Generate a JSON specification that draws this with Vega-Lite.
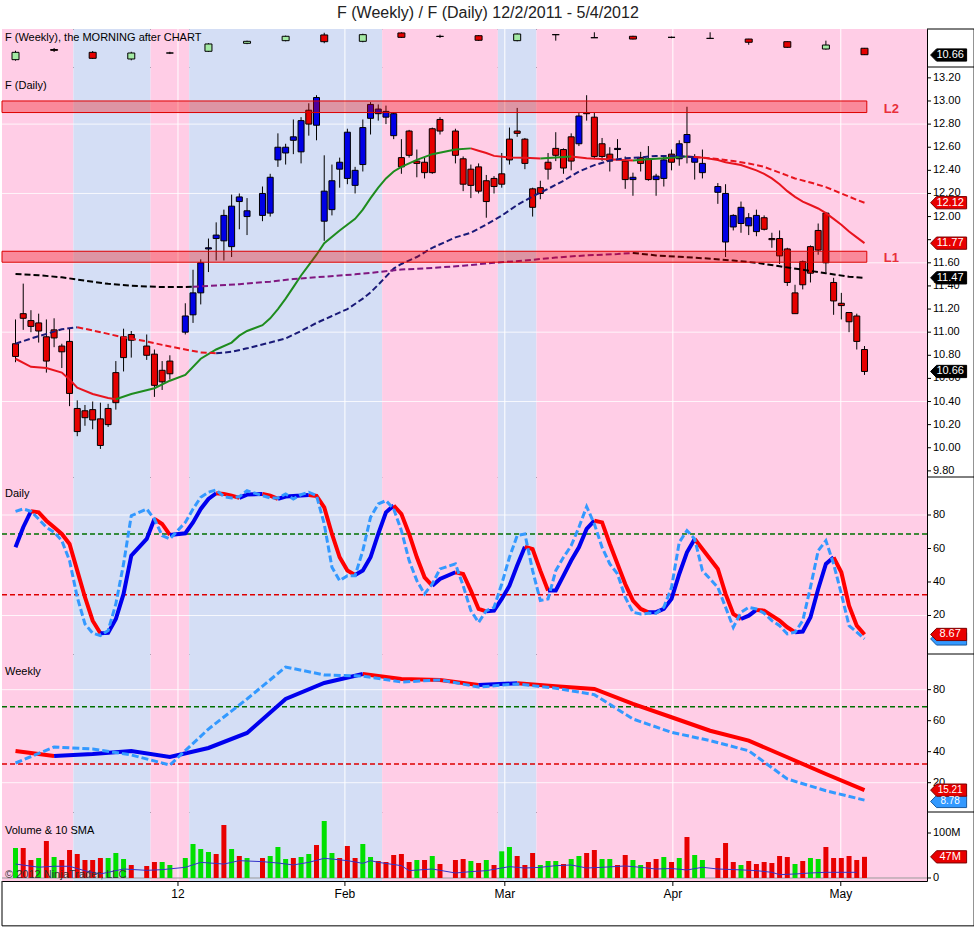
{
"$schema":"https://vega.github.io/schema/vega-lite/v6.json",
"padding":{"top":5,"left":0,"right":0,"bottom":0},
"background":"white",
"title":{"text":"F (Weekly) / F (Daily)  12/2/2011 - 5/4/2012","fontSize":16,"fontWeight":"normal","font":"Liberation Sans","color":"#222222","anchor":"middle","offset":7},
"config":{"view":{"stroke":"#000000","strokeWidth":1},"text":{"font":"Liberation Sans"}},
"spacing":0,
"bounds":"flush",
"resolve":{"scale":{"x":"independent","y":"independent"}},
"datasets":{
"bands":[{"a":-1.75,"b":7.5,"phase":"down"},{"a":7.5,"b":17.5,"phase":"up"},{"a":17.5,"b":22.5,"phase":"down"},{"a":22.5,"b":47.5,"phase":"up"},{"a":47.5,"b":62.5,"phase":"down"},{"a":62.5,"b":67.5,"phase":"up"},{"a":67.5,"b":118.1,"phase":"down"}],
"months":[{"i":21.05,"m":"12"},{"i":42.68,"m":"Feb"},{"i":63.4,"m":"Mar"},{"i":85.17,"m":"Apr"},{"i":106.93,"m":"May"}],
"priceTicks":[{"p":9.8},{"p":10.0},{"p":10.2},{"p":10.4},{"p":10.6},{"p":10.8},{"p":11.0},{"p":11.2},{"p":11.4},{"p":11.6},{"p":11.8},{"p":12.0},{"p":12.2},{"p":12.4},{"p":12.6},{"p":12.8},{"p":13.0},{"p":13.2}],
"stochTicks":[{"p":20},{"p":40},{"p":60},{"p":80}],
"volTicks":[{"p":0,"t":"0"},{"p":100,"t":"100M"}],
"weekly":[
{"i":0,"t":"2011-12-02","o":10.17,"h":11.11,"l":10.06,"c":10.94},
{"i":5,"t":"2011-12-09","o":11.24,"h":11.40,"l":10.98,"c":11.15},
{"i":10,"t":"2011-12-16","o":10.94,"h":11.08,"l":10.24,"c":10.31},
{"i":15,"t":"2011-12-23","o":10.24,"h":11.00,"l":10.10,"c":10.87},
{"i":20,"t":"2011-12-30","o":10.87,"h":11.00,"l":10.76,"c":10.87},
{"i":25,"t":"2012-01-06","o":11.05,"h":11.90,"l":10.98,"c":11.82},
{"i":30,"t":"2012-01-13","o":11.89,"h":12.17,"l":11.80,"c":12.10},
{"i":35,"t":"2012-01-20","o":12.17,"h":12.70,"l":12.10,"c":12.63},
{"i":40,"t":"2012-01-27","o":12.77,"h":13.00,"l":11.90,"c":12.06},
{"i":45,"t":"2012-02-03","o":12.10,"h":12.90,"l":12.00,"c":12.80},
{"i":50,"t":"2012-02-10","o":12.98,"h":13.05,"l":12.45,"c":12.52},
{"i":55,"t":"2012-02-17","o":12.62,"h":12.80,"l":12.45,"c":12.62},
{"i":60,"t":"2012-02-24","o":12.69,"h":12.75,"l":12.15,"c":12.21},
{"i":65,"t":"2012-03-02","o":12.17,"h":12.93,"l":12.10,"c":12.87},
{"i":70,"t":"2012-03-09","o":12.80,"h":12.80,"l":12.17,"c":12.80},
{"i":75,"t":"2012-03-16","o":12.48,"h":13.05,"l":12.45,"c":12.48},
{"i":80,"t":"2012-03-23","o":12.63,"h":12.68,"l":12.30,"c":12.34},
{"i":85,"t":"2012-03-30","o":12.52,"h":12.60,"l":12.43,"c":12.52},
{"i":90,"t":"2012-04-06","o":12.41,"h":13.05,"l":12.34,"c":12.41},
{"i":95,"t":"2012-04-13","o":12.34,"h":12.36,"l":11.74,"c":12.00},
{"i":100,"t":"2012-04-20","o":12.06,"h":12.10,"l":11.40,"c":11.47},
{"i":105,"t":"2012-04-27","o":11.29,"h":12.17,"l":11.22,"c":11.71},
{"i":110,"t":"2012-05-04","o":11.37,"h":11.40,"l":10.66,"c":10.69}],
"daily":[
{"i":0,"t":"2011-12-02","o":10.90,"h":11.11,"l":10.74,"c":10.79,"v":66.7,"vu":1},
{"i":1,"t":"2011-12-05","o":11.16,"h":11.42,"l":11.02,"c":11.12,"v":66.7,"vu":0},
{"i":2,"t":"2011-12-06","o":11.10,"h":11.19,"l":11.00,"c":11.05,"v":40,"vu":0},
{"i":3,"t":"2011-12-07","o":11.08,"h":11.16,"l":10.91,"c":11.01,"v":44.4,"vu":1},
{"i":4,"t":"2011-12-08","o":10.96,"h":11.11,"l":10.65,"c":10.75,"v":82.2,"vu":0},
{"i":5,"t":"2011-12-09","o":11.02,"h":11.12,"l":10.87,"c":10.95,"v":46.7,"vu":1},
{"i":6,"t":"2011-12-12","o":10.88,"h":10.90,"l":10.69,"c":10.83,"v":40,"vu":0},
{"i":7,"t":"2011-12-13","o":10.92,"h":11.03,"l":10.36,"c":10.47,"v":62.2,"vu":0},
{"i":8,"t":"2011-12-14","o":10.34,"h":10.41,"l":10.10,"c":10.14,"v":53.3,"vu":0},
{"i":9,"t":"2011-12-15","o":10.32,"h":10.37,"l":10.19,"c":10.26,"v":40,"vu":0},
{"i":10,"t":"2011-12-16","o":10.33,"h":10.40,"l":10.16,"c":10.24,"v":40,"vu":0},
{"i":11,"t":"2011-12-19","o":10.25,"h":10.39,"l":9.99,"c":10.02,"v":44.4,"vu":0},
{"i":12,"t":"2011-12-20","o":10.34,"h":10.38,"l":10.18,"c":10.20,"v":44.4,"vu":1},
{"i":13,"t":"2011-12-21","o":10.65,"h":10.75,"l":10.33,"c":10.39,"v":55.6,"vu":1},
{"i":14,"t":"2011-12-22","o":10.96,"h":11.03,"l":10.66,"c":10.78,"v":42.2,"vu":1},
{"i":15,"t":"2011-12-23","o":10.98,"h":11.01,"l":10.78,"c":10.93,"v":28.9,"vu":0},
{"i":17,"t":"2011-12-27","o":10.88,"h":10.98,"l":10.76,"c":10.80,"v":26.7,"vu":0},
{"i":18,"t":"2011-12-28","o":10.81,"h":10.85,"l":10.44,"c":10.54,"v":35.6,"vu":0},
{"i":19,"t":"2011-12-29","o":10.67,"h":10.75,"l":10.50,"c":10.57,"v":35.6,"vu":1},
{"i":20,"t":"2011-12-30","o":10.75,"h":10.80,"l":10.59,"c":10.64,"v":28.9,"vu":1},
{"i":22,"t":"2012-01-03","o":11.00,"h":11.25,"l":10.98,"c":11.14,"v":44.4,"vu":1},
{"i":23,"t":"2012-01-04","o":11.15,"h":11.54,"l":11.08,"c":11.34,"v":75.6,"vu":1},
{"i":24,"t":"2012-01-05","o":11.34,"h":11.63,"l":11.24,"c":11.60,"v":64.4,"vu":1},
{"i":25,"t":"2012-01-06","o":11.72,"h":11.81,"l":11.52,"c":11.73,"v":57.8,"vu":1},
{"i":26,"t":"2012-01-09","o":11.81,"h":11.95,"l":11.62,"c":11.84,"v":53.3,"vu":0},
{"i":27,"t":"2012-01-10","o":11.79,"h":12.06,"l":11.62,"c":12.01,"v":117.8,"vu":0},
{"i":28,"t":"2012-01-11","o":11.74,"h":12.19,"l":11.65,"c":12.09,"v":64.4,"vu":1},
{"i":29,"t":"2012-01-12","o":12.13,"h":12.20,"l":11.89,"c":12.17,"v":48.9,"vu":0},
{"i":30,"t":"2012-01-13","o":12.00,"h":12.16,"l":11.84,"c":12.05,"v":44.4,"vu":1},
{"i":32,"t":"2012-01-17","o":12.01,"h":12.26,"l":11.96,"c":12.20,"v":44.4,"vu":0},
{"i":33,"t":"2012-01-18","o":12.03,"h":12.37,"l":12.00,"c":12.34,"v":48.9,"vu":1},
{"i":34,"t":"2012-01-19","o":12.49,"h":12.72,"l":12.43,"c":12.60,"v":68.9,"vu":1},
{"i":35,"t":"2012-01-20","o":12.55,"h":12.63,"l":12.45,"c":12.60,"v":42.2,"vu":1},
{"i":36,"t":"2012-01-23","o":12.66,"h":12.84,"l":12.54,"c":12.69,"v":44.4,"vu":0},
{"i":37,"t":"2012-01-24","o":12.56,"h":12.86,"l":12.46,"c":12.83,"v":46.7,"vu":1},
{"i":38,"t":"2012-01-25","o":12.92,"h":12.98,"l":12.70,"c":12.80,"v":53.3,"vu":1},
{"i":39,"t":"2012-01-26","o":12.79,"h":13.05,"l":12.66,"c":13.03,"v":73.3,"vu":0},
{"i":40,"t":"2012-01-27","o":11.96,"h":12.53,"l":11.79,"c":12.22,"v":126.7,"vu":1},
{"i":41,"t":"2012-01-30","o":12.06,"h":12.45,"l":12.01,"c":12.31,"v":55.6,"vu":1},
{"i":42,"t":"2012-01-31","o":12.41,"h":12.51,"l":12.25,"c":12.47,"v":44.4,"vu":0},
{"i":43,"t":"2012-02-01","o":12.33,"h":12.76,"l":12.28,"c":12.73,"v":71.1,"vu":0},
{"i":44,"t":"2012-02-02","o":12.27,"h":12.43,"l":12.20,"c":12.40,"v":44.4,"vu":0},
{"i":45,"t":"2012-02-03","o":12.45,"h":12.84,"l":12.39,"c":12.77,"v":75.6,"vu":1},
{"i":46,"t":"2012-02-06","o":12.85,"h":12.99,"l":12.71,"c":12.97,"v":46.7,"vu":1},
{"i":47,"t":"2012-02-07","o":12.89,"h":12.97,"l":12.83,"c":12.93,"v":37.8,"vu":0},
{"i":48,"t":"2012-02-08","o":12.86,"h":12.96,"l":12.80,"c":12.91,"v":35.6,"vu":0},
{"i":49,"t":"2012-02-09","o":12.70,"h":12.90,"l":12.67,"c":12.89,"v":51.1,"vu":0},
{"i":50,"t":"2012-02-10","o":12.51,"h":12.67,"l":12.37,"c":12.43,"v":53.3,"vu":0},
{"i":51,"t":"2012-02-13","o":12.74,"h":12.75,"l":12.51,"c":12.53,"v":35.6,"vu":0},
{"i":52,"t":"2012-02-14","o":12.48,"h":12.58,"l":12.34,"c":12.46,"v":40,"vu":1},
{"i":53,"t":"2012-02-15","o":12.47,"h":12.51,"l":12.33,"c":12.38,"v":40,"vu":0},
{"i":54,"t":"2012-02-16","o":12.76,"h":12.77,"l":12.37,"c":12.38,"v":48.9,"vu":1},
{"i":55,"t":"2012-02-17","o":12.84,"h":12.86,"l":12.71,"c":12.74,"v":31.1,"vu":0},
{"i":57,"t":"2012-02-21","o":12.74,"h":12.76,"l":12.46,"c":12.53,"v":40,"vu":0},
{"i":58,"t":"2012-02-22","o":12.50,"h":12.52,"l":12.22,"c":12.28,"v":42.2,"vu":0},
{"i":59,"t":"2012-02-23","o":12.41,"h":12.45,"l":12.16,"c":12.27,"v":37.8,"vu":1},
{"i":60,"t":"2012-02-24","o":12.43,"h":12.46,"l":12.20,"c":12.22,"v":33.3,"vu":0},
{"i":61,"t":"2012-02-27","o":12.31,"h":12.36,"l":11.99,"c":12.13,"v":40,"vu":1},
{"i":62,"t":"2012-02-28","o":12.33,"h":12.35,"l":12.20,"c":12.26,"v":28.9,"vu":0},
{"i":63,"t":"2012-02-29","o":12.37,"h":12.55,"l":12.25,"c":12.28,"v":59.3,"vu":1},
{"i":64,"t":"2012-03-01","o":12.67,"h":12.77,"l":12.45,"c":12.49,"v":68.9,"vu":1},
{"i":65,"t":"2012-03-02","o":12.74,"h":12.94,"l":12.69,"c":12.72,"v":48.9,"vu":0},
{"i":66,"t":"2012-03-05","o":12.67,"h":12.68,"l":12.41,"c":12.46,"v":28.9,"vu":0},
{"i":67,"t":"2012-03-06","o":12.24,"h":12.25,"l":12.00,"c":12.08,"v":55.6,"vu":0},
{"i":68,"t":"2012-03-07","o":12.25,"h":12.31,"l":12.15,"c":12.20,"v":28.9,"vu":1},
{"i":69,"t":"2012-03-08","o":12.47,"h":12.55,"l":12.32,"c":12.41,"v":37.8,"vu":1},
{"i":70,"t":"2012-03-09","o":12.59,"h":12.73,"l":12.48,"c":12.53,"v":37.8,"vu":1},
{"i":71,"t":"2012-03-12","o":12.58,"h":12.59,"l":12.37,"c":12.42,"v":31.1,"vu":0},
{"i":72,"t":"2012-03-13","o":12.69,"h":12.72,"l":12.40,"c":12.48,"v":42.2,"vu":1},
{"i":73,"t":"2012-03-14","o":12.63,"h":12.90,"l":12.61,"c":12.87,"v":48.9,"vu":1},
{"i":74,"t":"2012-03-15","o":12.90,"h":13.05,"l":12.83,"c":12.89,"v":55.6,"vu":0},
{"i":75,"t":"2012-03-16","o":12.86,"h":12.90,"l":12.50,"c":12.52,"v":62.2,"vu":0},
{"i":76,"t":"2012-03-19","o":12.63,"h":12.68,"l":12.48,"c":12.52,"v":42.2,"vu":1},
{"i":77,"t":"2012-03-20","o":12.54,"h":12.60,"l":12.39,"c":12.48,"v":42.2,"vu":1},
{"i":78,"t":"2012-03-21","o":12.58,"h":12.67,"l":12.50,"c":12.59,"v":28.9,"vu":0},
{"i":79,"t":"2012-03-22","o":12.48,"h":12.52,"l":12.24,"c":12.32,"v":51.1,"vu":0},
{"i":80,"t":"2012-03-23","o":12.32,"h":12.38,"l":12.18,"c":12.34,"v":40,"vu":1},
{"i":81,"t":"2012-03-26","o":12.51,"h":12.56,"l":12.39,"c":12.46,"v":28.9,"vu":1},
{"i":82,"t":"2012-03-27","o":12.50,"h":12.61,"l":12.31,"c":12.32,"v":35.6,"vu":0},
{"i":83,"t":"2012-03-28","o":12.32,"h":12.37,"l":12.18,"c":12.35,"v":42.2,"vu":0},
{"i":84,"t":"2012-03-29","o":12.33,"h":12.53,"l":12.26,"c":12.49,"v":46.7,"vu":1},
{"i":85,"t":"2012-03-30","o":12.54,"h":12.58,"l":12.40,"c":12.47,"v":35.6,"vu":0},
{"i":86,"t":"2012-04-02","o":12.50,"h":12.66,"l":12.44,"c":12.63,"v":44.4,"vu":1},
{"i":87,"t":"2012-04-03","o":12.64,"h":12.95,"l":12.46,"c":12.71,"v":91.1,"vu":0},
{"i":88,"t":"2012-04-04","o":12.47,"h":12.54,"l":12.32,"c":12.51,"v":51.1,"vu":1},
{"i":89,"t":"2012-04-05","o":12.38,"h":12.58,"l":12.33,"c":12.46,"v":40,"vu":1},
{"i":91,"t":"2012-04-09","o":12.21,"h":12.29,"l":12.11,"c":12.26,"v":44.4,"vu":0},
{"i":92,"t":"2012-04-10","o":11.78,"h":12.28,"l":11.65,"c":12.20,"v":77.8,"vu":0},
{"i":93,"t":"2012-04-11","o":11.91,"h":12.02,"l":11.88,"c":12.01,"v":35.6,"vu":0},
{"i":94,"t":"2012-04-12","o":11.94,"h":12.13,"l":11.86,"c":12.08,"v":28.9,"vu":1},
{"i":95,"t":"2012-04-13","o":11.92,"h":12.03,"l":11.84,"c":11.99,"v":37.8,"vu":0},
{"i":96,"t":"2012-04-16","o":11.87,"h":12.06,"l":11.83,"c":12.01,"v":31.1,"vu":0},
{"i":97,"t":"2012-04-17","o":11.99,"h":12.01,"l":11.88,"c":11.89,"v":35.6,"vu":0},
{"i":98,"t":"2012-04-18","o":11.81,"h":11.86,"l":11.73,"c":11.80,"v":33.3,"vu":0},
{"i":99,"t":"2012-04-19","o":11.81,"h":11.88,"l":11.59,"c":11.66,"v":48.9,"vu":0},
{"i":100,"t":"2012-04-20","o":11.72,"h":11.73,"l":11.40,"c":11.43,"v":46.7,"vu":0},
{"i":101,"t":"2012-04-23","o":11.34,"h":11.41,"l":11.16,"c":11.16,"v":31.1,"vu":1},
{"i":102,"t":"2012-04-24","o":11.61,"h":11.62,"l":11.37,"c":11.41,"v":37.8,"vu":0},
{"i":103,"t":"2012-04-25","o":11.74,"h":11.75,"l":11.43,"c":11.51,"v":44.4,"vu":1},
{"i":104,"t":"2012-04-26","o":11.88,"h":11.94,"l":11.67,"c":11.71,"v":42.2,"vu":1},
{"i":105,"t":"2012-04-27","o":12.03,"h":12.04,"l":11.52,"c":11.60,"v":68.9,"vu":0},
{"i":106,"t":"2012-04-30","o":11.43,"h":11.47,"l":11.15,"c":11.27,"v":44.4,"vu":0},
{"i":107,"t":"2012-05-01","o":11.25,"h":11.34,"l":11.11,"c":11.23,"v":44.4,"vu":0},
{"i":108,"t":"2012-05-02","o":11.17,"h":11.17,"l":11.00,"c":11.09,"v":48.9,"vu":0},
{"i":109,"t":"2012-05-03","o":11.14,"h":11.16,"l":10.85,"c":10.92,"v":40,"vu":0},
{"i":110,"t":"2012-05-04","o":10.85,"h":10.88,"l":10.63,"c":10.66,"v":47,"vu":0}],
"ma20":[
{"i":0,"v":10.77,"s":"a","d":"down"},{"i":2,"v":10.70,"s":"a","d":"down"},{"i":4,"v":10.69,"s":"a","d":"down"},{"i":6,"v":10.65,"s":"a","d":"down"},{"i":7,"v":10.59,"s":"a","d":"down"},{"i":8,"v":10.52,"s":"a","d":"down"},{"i":10,"v":10.465,"s":"a","d":"down"},{"i":12,"v":10.43,"s":"a","d":"down"},{"i":13,"v":10.42,"s":"a","d":"down"},
{"i":13,"v":10.42,"s":"b","d":"up"},{"i":15,"v":10.465,"s":"b","d":"up"},{"i":18,"v":10.515,"s":"b","d":"up"},{"i":20,"v":10.58,"s":"b","d":"up"},{"i":22,"v":10.63,"s":"b","d":"up"},{"i":24,"v":10.77,"s":"b","d":"up"},{"i":26,"v":10.85,"s":"b","d":"up"},{"i":28,"v":10.91,"s":"b","d":"up"},{"i":29,"v":10.97,"s":"b","d":"up"},{"i":30,"v":11.01,"s":"b","d":"up"},{"i":32,"v":11.06,"s":"b","d":"up"},{"i":33,"v":11.12,"s":"b","d":"up"},{"i":34,"v":11.2,"s":"b","d":"up"},{"i":35,"v":11.29,"s":"b","d":"up"},{"i":36,"v":11.39,"s":"b","d":"up"},{"i":37,"v":11.49,"s":"b","d":"up"},{"i":38,"v":11.58,"s":"b","d":"up"},{"i":39,"v":11.67,"s":"b","d":"up"},{"i":40,"v":11.77,"s":"b","d":"up"},{"i":42,"v":11.88,"s":"b","d":"up"},{"i":44,"v":11.98,"s":"b","d":"up"},{"i":45,"v":12.06,"s":"b","d":"up"},{"i":46,"v":12.16,"s":"b","d":"up"},{"i":47,"v":12.25,"s":"b","d":"up"},{"i":48,"v":12.33,"s":"b","d":"up"},{"i":49,"v":12.39,"s":"b","d":"up"},{"i":50,"v":12.43,"s":"b","d":"up"},{"i":52,"v":12.49,"s":"b","d":"up"},{"i":54,"v":12.54,"s":"b","d":"up"},{"i":57,"v":12.58,"s":"b","d":"up"},{"i":59,"v":12.59,"s":"b","d":"up"},
{"i":59,"v":12.59,"s":"c","d":"down"},{"i":60,"v":12.57,"s":"c","d":"down"},{"i":61,"v":12.55,"s":"c","d":"down"},{"i":62,"v":12.525,"s":"c","d":"down"},{"i":64,"v":12.512,"s":"c","d":"down"},{"i":66,"v":12.508,"s":"c","d":"down"},{"i":68,"v":12.503,"s":"c","d":"down"},
{"i":68,"v":12.503,"s":"d","d":"up"},{"i":70,"v":12.512,"s":"d","d":"up"},{"i":72,"v":12.52,"s":"d","d":"up"},
{"i":72,"v":12.52,"s":"e","d":"down"},{"i":74,"v":12.505,"s":"e","d":"down"},{"i":76,"v":12.498,"s":"e","d":"down"},{"i":78,"v":12.492,"s":"e","d":"down"},{"i":80,"v":12.485,"s":"e","d":"down"},
{"i":80,"v":12.485,"s":"f","d":"up"},{"i":82,"v":12.495,"s":"f","d":"up"},{"i":84,"v":12.505,"s":"f","d":"up"},{"i":86,"v":12.515,"s":"f","d":"up"},{"i":87,"v":12.52,"s":"f","d":"up"},
{"i":87,"v":12.52,"s":"g","d":"down"},{"i":89,"v":12.51,"s":"g","d":"down"},{"i":91,"v":12.49,"s":"g","d":"down"},{"i":92,"v":12.47,"s":"g","d":"down"},{"i":94,"v":12.446,"s":"g","d":"down"},{"i":96,"v":12.40,"s":"g","d":"down"},{"i":97,"v":12.37,"s":"g","d":"down"},{"i":98,"v":12.33,"s":"g","d":"down"},{"i":99,"v":12.28,"s":"g","d":"down"},{"i":100,"v":12.22,"s":"g","d":"down"},{"i":101,"v":12.17,"s":"g","d":"down"},{"i":102,"v":12.13,"s":"g","d":"down"},{"i":103,"v":12.10,"s":"g","d":"down"},{"i":104,"v":12.07,"s":"g","d":"down"},{"i":105,"v":12.03,"s":"g","d":"down"},{"i":106,"v":11.98,"s":"g","d":"down"},{"i":107,"v":11.93,"s":"g","d":"down"},{"i":108,"v":11.87,"s":"g","d":"down"},{"i":109,"v":11.82,"s":"g","d":"down"},{"i":110,"v":11.77,"s":"g","d":"down"}],
"ma50":[
{"i":0,"v":10.90,"s":"a","d":"up"},{"i":2,"v":10.945,"s":"a","d":"up"},{"i":4,"v":10.985,"s":"a","d":"up"},{"i":6,"v":11.025,"s":"a","d":"up"},{"i":8,"v":11.042,"s":"a","d":"up"},
{"i":8,"v":11.042,"s":"b","d":"down"},{"i":10,"v":11.015,"s":"b","d":"down"},{"i":12,"v":10.985,"s":"b","d":"down"},{"i":14,"v":10.955,"s":"b","d":"down"},{"i":17,"v":10.92,"s":"b","d":"down"},{"i":19,"v":10.89,"s":"b","d":"down"},{"i":22,"v":10.85,"s":"b","d":"down"},{"i":24,"v":10.825,"s":"b","d":"down"},{"i":26,"v":10.818,"s":"b","d":"down"},
{"i":26,"v":10.818,"s":"c","d":"up"},{"i":28,"v":10.83,"s":"c","d":"up"},{"i":30,"v":10.86,"s":"c","d":"up"},{"i":33,"v":10.91,"s":"c","d":"up"},{"i":35,"v":10.946,"s":"c","d":"up"},{"i":37,"v":11.01,"s":"c","d":"up"},{"i":39,"v":11.08,"s":"c","d":"up"},{"i":41,"v":11.14,"s":"c","d":"up"},{"i":43,"v":11.2,"s":"c","d":"up"},{"i":45,"v":11.29,"s":"c","d":"up"},{"i":46,"v":11.344,"s":"c","d":"up"},{"i":47,"v":11.41,"s":"c","d":"up"},{"i":48,"v":11.48,"s":"c","d":"up"},{"i":49,"v":11.55,"s":"c","d":"up"},{"i":50,"v":11.59,"s":"c","d":"up"},{"i":52,"v":11.65,"s":"c","d":"up"},{"i":54,"v":11.73,"s":"c","d":"up"},{"i":57,"v":11.82,"s":"c","d":"up"},{"i":59,"v":11.86,"s":"c","d":"up"},{"i":61,"v":11.93,"s":"c","d":"up"},{"i":63,"v":12.008,"s":"c","d":"up"},{"i":65,"v":12.1,"s":"c","d":"up"},{"i":67,"v":12.175,"s":"c","d":"up"},{"i":69,"v":12.24,"s":"c","d":"up"},{"i":71,"v":12.31,"s":"c","d":"up"},{"i":73,"v":12.39,"s":"c","d":"up"},{"i":75,"v":12.445,"s":"c","d":"up"},{"i":77,"v":12.485,"s":"c","d":"up"},{"i":79,"v":12.505,"s":"c","d":"up"},{"i":81,"v":12.512,"s":"c","d":"up"},{"i":83,"v":12.525,"s":"c","d":"up"},{"i":85,"v":12.525,"s":"c","d":"up"},{"i":88,"v":12.515,"s":"c","d":"up"},
{"i":88,"v":12.515,"s":"d","d":"down"},{"i":91,"v":12.498,"s":"d","d":"down"},{"i":93,"v":12.48,"s":"d","d":"down"},{"i":95,"v":12.46,"s":"d","d":"down"},{"i":97,"v":12.43,"s":"d","d":"down"},{"i":99,"v":12.38,"s":"d","d":"down"},{"i":101,"v":12.33,"s":"d","d":"down"},{"i":103,"v":12.295,"s":"d","d":"down"},{"i":105,"v":12.255,"s":"d","d":"down"},{"i":107,"v":12.2,"s":"d","d":"down"},{"i":109,"v":12.145,"s":"d","d":"down"},{"i":110,"v":12.12,"s":"d","d":"down"}],
"ma200":[
{"i":0,"v":11.503,"s":"a","d":"down"},{"i":3,"v":11.492,"s":"a","d":"down"},{"i":6,"v":11.475,"s":"a","d":"down"},{"i":9,"v":11.445,"s":"a","d":"down"},{"i":12,"v":11.418,"s":"a","d":"down"},{"i":15,"v":11.402,"s":"a","d":"down"},{"i":19,"v":11.39,"s":"a","d":"down"},{"i":23,"v":11.392,"s":"a","d":"down"},
{"i":23,"v":11.392,"s":"b","d":"up"},{"i":26,"v":11.404,"s":"b","d":"up"},{"i":29,"v":11.415,"s":"b","d":"up"},{"i":33,"v":11.437,"s":"b","d":"up"},{"i":36,"v":11.46,"s":"b","d":"up"},{"i":40,"v":11.48,"s":"b","d":"up"},{"i":44,"v":11.5,"s":"b","d":"up"},{"i":47,"v":11.52,"s":"b","d":"up"},{"i":50,"v":11.542,"s":"b","d":"up"},{"i":54,"v":11.555,"s":"b","d":"up"},{"i":58,"v":11.575,"s":"b","d":"up"},{"i":62,"v":11.6,"s":"b","d":"up"},{"i":66,"v":11.62,"s":"b","d":"up"},{"i":70,"v":11.645,"s":"b","d":"up"},{"i":74,"v":11.665,"s":"b","d":"up"},{"i":78,"v":11.676,"s":"b","d":"up"},{"i":80,"v":11.685,"s":"b","d":"up"},
{"i":80,"v":11.685,"s":"c","d":"down"},{"i":83,"v":11.664,"s":"c","d":"down"},{"i":86,"v":11.652,"s":"c","d":"down"},{"i":89,"v":11.64,"s":"c","d":"down"},{"i":93,"v":11.62,"s":"c","d":"down"},{"i":96,"v":11.6,"s":"c","d":"down"},{"i":99,"v":11.57,"s":"c","d":"down"},{"i":102,"v":11.54,"s":"c","d":"down"},{"i":105,"v":11.51,"s":"c","d":"down"},{"i":108,"v":11.48,"s":"c","d":"down"},{"i":110,"v":11.47,"s":"c","d":"down"}],
"dD":[
{"i":0,"v":60.7,"s":1,"d":"up"},{"i":1,"v":72.7,"s":1,"d":"up"},{"i":2,"v":82.2,"s":1,"d":"up"},
{"i":2,"v":82.2,"s":2,"d":"down"},{"i":3,"v":81.6,"s":2,"d":"down"},{"i":4,"v":76.6,"s":2,"d":"down"},{"i":5,"v":72.7,"s":2,"d":"down"},{"i":6,"v":68.7,"s":2,"d":"down"},{"i":7,"v":62.7,"s":2,"d":"down"},{"i":8,"v":46.8,"s":2,"d":"down"},{"i":9,"v":30.9,"s":2,"d":"down"},{"i":10,"v":16.9,"s":2,"d":"down"},{"i":11,"v":9.4,"s":2,"d":"down"},
{"i":11,"v":9.4,"s":3,"d":"up"},{"i":12,"v":9.6,"s":3,"d":"up"},{"i":13,"v":17.9,"s":3,"d":"up"},{"i":14,"v":32.9,"s":3,"d":"up"},{"i":15,"v":55.7,"s":3,"d":"up"},{"i":17,"v":65.7,"s":3,"d":"up"},{"i":18,"v":77.6,"s":3,"d":"up"},
{"i":18,"v":77.6,"s":4,"d":"down"},{"i":19,"v":74.65,"s":4,"d":"down"},{"i":20,"v":68.1,"s":4,"d":"down"},
{"i":20,"v":68.1,"s":5,"d":"up"},{"i":22,"v":69.1,"s":5,"d":"up"},{"i":23,"v":75.6,"s":5,"d":"up"},{"i":24,"v":83.6,"s":5,"d":"up"},{"i":25,"v":89.6,"s":5,"d":"up"},{"i":26,"v":93.0,"s":5,"d":"up"},
{"i":26,"v":93.0,"s":6,"d":"down"},{"i":27,"v":92.6,"s":6,"d":"down"},{"i":28,"v":91.6,"s":6,"d":"down"},{"i":29,"v":90.2,"s":6,"d":"down"},
{"i":29,"v":90.2,"s":7,"d":"up"},{"i":30,"v":92.2,"s":7,"d":"up"},{"i":32,"v":92.6,"s":7,"d":"up"},
{"i":32,"v":92.6,"s":8,"d":"down"},{"i":33,"v":91.6,"s":8,"d":"down"},{"i":34,"v":89.6,"s":8,"d":"down"},
{"i":34,"v":89.6,"s":9,"d":"up"},{"i":35,"v":91.0,"s":9,"d":"up"},{"i":36,"v":91.4,"s":9,"d":"up"},{"i":37,"v":91.6,"s":9,"d":"up"},{"i":38,"v":92.0,"s":9,"d":"up"},
{"i":38,"v":92.0,"s":10,"d":"down"},{"i":39,"v":91.4,"s":10,"d":"down"},{"i":40,"v":84.6,"s":10,"d":"down"},{"i":41,"v":68.7,"s":10,"d":"down"},{"i":42,"v":54.75,"s":10,"d":"down"},{"i":43,"v":46.8,"s":10,"d":"down"},{"i":44,"v":44.2,"s":10,"d":"down"},
{"i":44,"v":44.2,"s":11,"d":"up"},{"i":45,"v":46.8,"s":11,"d":"up"},{"i":46,"v":54.75,"s":11,"d":"up"},{"i":47,"v":68.7,"s":11,"d":"up"},{"i":48,"v":81.6,"s":11,"d":"up"},{"i":49,"v":85.6,"s":11,"d":"up"},
{"i":49,"v":85.6,"s":12,"d":"down"},{"i":50,"v":80.6,"s":12,"d":"down"},{"i":51,"v":68.7,"s":12,"d":"down"},{"i":52,"v":54.75,"s":12,"d":"down"},{"i":53,"v":42.8,"s":12,"d":"down"},{"i":54,"v":37.8,"s":12,"d":"down"},
{"i":54,"v":37.8,"s":13,"d":"up"},{"i":55,"v":41.8,"s":13,"d":"up"},{"i":57,"v":45.8,"s":13,"d":"up"},
{"i":57,"v":45.8,"s":14,"d":"down"},{"i":58,"v":44.8,"s":14,"d":"down"},{"i":59,"v":34.85,"s":14,"d":"down"},{"i":60,"v":23.9,"s":14,"d":"down"},{"i":61,"v":22.5,"s":14,"d":"down"},
{"i":61,"v":22.5,"s":15,"d":"up"},{"i":62,"v":22.9,"s":15,"d":"up"},{"i":63,"v":29.9,"s":15,"d":"up"},{"i":64,"v":37.8,"s":15,"d":"up"},{"i":65,"v":49.8,"s":15,"d":"up"},{"i":66,"v":61.1,"s":15,"d":"up"},
{"i":66,"v":61.1,"s":16,"d":"down"},{"i":67,"v":59.7,"s":16,"d":"down"},{"i":68,"v":46.8,"s":16,"d":"down"},{"i":69,"v":34.85,"s":16,"d":"down"},
{"i":69,"v":34.85,"s":17,"d":"up"},{"i":70,"v":34.9,"s":17,"d":"up"},{"i":71,"v":43.8,"s":17,"d":"up"},{"i":72,"v":52.8,"s":17,"d":"up"},{"i":73,"v":60.7,"s":17,"d":"up"},{"i":74,"v":71.7,"s":17,"d":"up"},{"i":75,"v":76.6,"s":17,"d":"up"},
{"i":75,"v":76.6,"s":18,"d":"down"},{"i":76,"v":75.6,"s":18,"d":"down"},{"i":77,"v":62.7,"s":18,"d":"down"},{"i":78,"v":50.8,"s":18,"d":"down"},{"i":79,"v":38.8,"s":18,"d":"down"},{"i":80,"v":28.9,"s":18,"d":"down"},{"i":81,"v":23.9,"s":18,"d":"down"},{"i":82,"v":21.9,"s":18,"d":"down"},
{"i":82,"v":21.9,"s":19,"d":"up"},{"i":83,"v":22.0,"s":19,"d":"up"},{"i":84,"v":23.9,"s":19,"d":"up"},{"i":85,"v":29.9,"s":19,"d":"up"},{"i":86,"v":44.8,"s":19,"d":"up"},{"i":87,"v":57.7,"s":19,"d":"up"},{"i":88,"v":65.7,"s":19,"d":"up"},
{"i":88,"v":65.7,"s":20,"d":"down"},{"i":89,"v":59.7,"s":20,"d":"down"},{"i":91,"v":47.8,"s":20,"d":"down"},{"i":92,"v":32.9,"s":20,"d":"down"},{"i":93,"v":20.9,"s":20,"d":"down"},{"i":94,"v":17.9,"s":20,"d":"down"},
{"i":94,"v":17.9,"s":21,"d":"up"},{"i":95,"v":19.9,"s":21,"d":"up"},{"i":96,"v":23.3,"s":21,"d":"up"},
{"i":96,"v":23.3,"s":22,"d":"down"},{"i":97,"v":22.9,"s":22,"d":"down"},{"i":98,"v":19.9,"s":22,"d":"down"},{"i":99,"v":16.9,"s":22,"d":"down"},{"i":100,"v":12.95,"s":22,"d":"down"},{"i":101,"v":10.0,"s":22,"d":"down"},
{"i":101,"v":10.0,"s":23,"d":"up"},{"i":102,"v":10.4,"s":23,"d":"up"},{"i":103,"v":18.9,"s":23,"d":"up"},{"i":104,"v":35.8,"s":23,"d":"up"},{"i":105,"v":50.8,"s":23,"d":"up"},{"i":106,"v":54.75,"s":23,"d":"up"},
{"i":106,"v":54.75,"s":24,"d":"down"},{"i":107,"v":45.8,"s":24,"d":"down"},{"i":108,"v":25.9,"s":24,"d":"down"},{"i":109,"v":13.95,"s":24,"d":"down"},{"i":110,"v":8.67,"s":24,"d":"down"}],
"dK":[
{"i":0,"v":82.2},{"i":1,"v":83.6},{"i":2,"v":82.2},{"i":3,"v":77.6},{"i":4,"v":72.7},{"i":5,"v":69.7},{"i":6,"v":64.7},{"i":7,"v":52.8},{"i":8,"v":30.9},{"i":9,"v":14.95},{"i":10,"v":9.4},{"i":11,"v":8.0},{"i":12,"v":11.0},{"i":13,"v":26.9},{"i":14,"v":50.8},{"i":15,"v":79.6},{"i":17,"v":83.6},{"i":18,"v":77.6},{"i":19,"v":67.7},{"i":20,"v":65.7},{"i":22,"v":75.6},{"i":23,"v":83.6},{"i":24,"v":90.6},{"i":25,"v":93.6},{"i":26,"v":95.0},{"i":27,"v":91.0},{"i":28,"v":90.2},{"i":29,"v":91.0},{"i":30,"v":94.5},{"i":32,"v":91.6},{"i":33,"v":90.2},{"i":34,"v":90.2},{"i":35,"v":92.6},{"i":36,"v":89.6},{"i":37,"v":92.2},{"i":38,"v":93.6},{"i":39,"v":91.6},{"i":40,"v":74.65},{"i":41,"v":48.8},{"i":42,"v":40.8},{"i":43,"v":43.8},{"i":44,"v":43.8},{"i":45,"v":58.7},{"i":46,"v":78.6},{"i":47,"v":86.6},{"i":48,"v":88.6},{"i":49,"v":83.6},{"i":50,"v":70.7},{"i":51,"v":52.8},{"i":52,"v":40.8},{"i":53,"v":32.9},{"i":54,"v":38.8},{"i":55,"v":47.8},{"i":57,"v":50.8},{"i":58,"v":37.8},{"i":59,"v":22.9},{"i":60,"v":15.9},{"i":61,"v":22.9},{"i":62,"v":24.9},{"i":63,"v":38.8},{"i":64,"v":54.75},{"i":65,"v":67.7},{"i":66,"v":68.7},{"i":67,"v":46.8},{"i":68,"v":28.9},{"i":69,"v":29.9},{"i":70,"v":46.8},{"i":71,"v":54.75},{"i":72,"v":61.7},{"i":73,"v":72.7},{"i":74,"v":85.0},{"i":75,"v":74.65},{"i":76,"v":60.7},{"i":77,"v":50.8},{"i":78,"v":44.8},{"i":79,"v":30.9},{"i":80,"v":21.9},{"i":81,"v":20.9},{"i":82,"v":21.3},{"i":83,"v":21.3},{"i":84,"v":24.9},{"i":85,"v":36.8},{"i":86,"v":63.7},{"i":87,"v":70.7},{"i":88,"v":65.7},{"i":89,"v":46.8},{"i":91,"v":36.8},{"i":92,"v":24.9},{"i":93,"v":12.95},{"i":94,"v":21.9},{"i":95,"v":24.9},{"i":96,"v":23.9},{"i":97,"v":21.3},{"i":98,"v":16.9},{"i":99,"v":13.95},{"i":100,"v":9.0},{"i":101,"v":10.0},{"i":102,"v":16.9},{"i":103,"v":36.8},{"i":104,"v":58.7},{"i":105,"v":64.7},{"i":106,"v":50.8},{"i":107,"v":32.9},{"i":108,"v":13.95},{"i":109,"v":10.0},{"i":110,"v":6.0}],
"wD":[
{"i":0,"v":40.5,"s":1,"d":"down"},{"i":5,"v":37.2,"s":1,"d":"down"},
{"i":5,"v":37.2,"s":2,"d":"up"},{"i":10,"v":38.5,"s":2,"d":"up"},{"i":15,"v":40.5,"s":2,"d":"up"},{"i":20,"v":36.6,"s":2,"d":"up"},{"i":25,"v":42.4,"s":2,"d":"up"},{"i":30,"v":52.1,"s":2,"d":"up"},{"i":35,"v":74.0,"s":2,"d":"up"},{"i":40,"v":84.3,"s":2,"d":"up"},{"i":45,"v":90.1,"s":2,"d":"up"},
{"i":45,"v":90.1,"s":3,"d":"down"},{"i":50,"v":86.9,"s":3,"d":"down"},{"i":55,"v":86.3,"s":3,"d":"down"},{"i":60,"v":83.0,"s":3,"d":"down"},
{"i":60,"v":83.0,"s":4,"d":"up"},{"i":65,"v":84.1,"s":4,"d":"up"},
{"i":65,"v":84.1,"s":5,"d":"down"},{"i":70,"v":82.2,"s":5,"d":"down"},{"i":75,"v":80.5,"s":5,"d":"down"},{"i":80,"v":70.8,"s":5,"d":"down"},{"i":85,"v":62.2,"s":5,"d":"down"},{"i":90,"v":53.5,"s":5,"d":"down"},{"i":95,"v":47.1,"s":5,"d":"down"},{"i":100,"v":36.4,"s":5,"d":"down"},{"i":105,"v":25.6,"s":5,"d":"down"},{"i":110,"v":15.21,"s":5,"d":"down"}],
"wK":[
{"i":0,"v":32.7},{"i":5,"v":43.0},{"i":10,"v":41.7},{"i":15,"v":37.9},{"i":20,"v":31.4},{"i":25,"v":54.6},{"i":30,"v":74.0},{"i":35,"v":94.6},{"i":40,"v":89.5},{"i":45,"v":88.8},{"i":50,"v":84.9},{"i":55,"v":86.3},{"i":60,"v":81.7},{"i":65,"v":83.7},{"i":70,"v":80.9},{"i":75,"v":76.8},{"i":80,"v":61.1},{"i":85,"v":52.5},{"i":90,"v":47.1},{"i":95,"v":40.6},{"i":100,"v":22.4},{"i":105,"v":14.8},{"i":110,"v":8.78}],
"vsma":[
{"i":0,"v":31},{"i":3,"v":24},{"i":5,"v":26},{"i":7,"v":26},{"i":9,"v":16},{"i":11,"v":9},{"i":12,"v":12.6},{"i":14,"v":20},{"i":17,"v":17},{"i":19,"v":18.5},{"i":22,"v":23.7},{"i":24,"v":34.8},{"i":27,"v":31},{"i":29,"v":38.5},{"i":32,"v":36.3},{"i":34,"v":33.3},{"i":36,"v":29},{"i":38,"v":34.8},{"i":40,"v":43.7},{"i":41,"v":42.2},{"i":43,"v":38.5},{"i":45,"v":32.6},{"i":46,"v":38.5},{"i":47,"v":34.8},{"i":50,"v":27.4},{"i":51,"v":16.3},{"i":54,"v":20},{"i":57,"v":11.1},{"i":59,"v":14.1},{"i":61,"v":16.3},{"i":64,"v":25.2},{"i":66,"v":22.2},{"i":68,"v":23.7},{"i":70,"v":27.4},{"i":72,"v":28.9},{"i":74,"v":22.2},{"i":76,"v":23.7},{"i":79,"v":26.7},{"i":81,"v":23.7},{"i":83,"v":20},{"i":85,"v":21},{"i":87,"v":17.8},{"i":89,"v":23.7},{"i":91,"v":20},{"i":94,"v":18},{"i":96,"v":16.3},{"i":98,"v":12.6},{"i":99,"v":7.4},{"i":101,"v":8.9},{"i":103,"v":11.1},{"i":105,"v":12.6},{"i":107,"v":12.6},{"i":109,"v":12.6}],
"levels":[{"n":"L2","lo":12.90,"hi":13.00},{"n":"L1","lo":11.605,"hi":11.70}]
},
"vconcat":[
{"width":925,"height":38,"layer":[
{"data":{"name":"bands"},"mark":{"type":"rect"},"encoding":{"x":{"field":"a","type":"quantitative","scale":{"domain":[-1.75,118.1],"nice":false,"zero":false,"padding":0},"axis":null},"x2":{"field":"b"},"fill":{"condition":{"test":"datum.phase=='up'","value":"#d4def5"},"value":"#ffcde6"}}},
{"data":{"name":"months"},"mark":{"type":"rule","color":"white","strokeWidth":1},"encoding":{"x":{"field":"i","type":"quantitative","scale":{"domain":[-1.75,118.1],"nice":false,"zero":false,"padding":0},"axis":null}}},
{"data":{"name":"weekly"},"mark":{"type":"rule","color":"black","strokeWidth":1},"encoding":{"x":{"field":"i","type":"quantitative","scale":{"domain":[-1.75,118.1],"nice":false,"zero":false,"padding":0},"axis":null},"y":{"field":"l","type":"quantitative","scale":{"domain":[9.397,13.397],"nice":false,"zero":false,"padding":0},"axis":null},"y2":{"field":"h"}}},
{"data":{"name":"weekly"},"mark":{"type":"bar","width":7,"stroke":"black","strokeWidth":1},"encoding":{"x":{"field":"i","type":"quantitative","scale":{"domain":[-1.75,118.1],"nice":false,"zero":false,"padding":0},"axis":null},"y":{"field":"o","type":"quantitative","scale":{"domain":[9.397,13.397],"nice":false,"zero":false,"padding":0},"axis":null},"y2":{"field":"c"},"fill":{"condition":[{"test":"datum.c==datum.o","value":"black"},{"test":"datum.c>datum.o","value":"#a4eaa4"}],"value":"#e60000"}}},
{"data":{"values":[{"n":"F (Weekly), the MORNING after CHART"}]},"mark":{"type":"text","align":"left","baseline":"middle","dx":3,"dy":9,"fontSize":11,"color":"black"},"encoding":{"x":{"datum":-1.75,"type":"quantitative","scale":{"domain":[-1.75,118.1],"nice":false,"zero":false,"padding":0},"axis":null},"y":{"datum":13.397,"type":"quantitative","scale":{"domain":[9.397,13.397],"nice":false,"zero":false,"padding":0},"axis":null},"text":{"field":"n"}}},
{"data":{"values":[{"e":"frame"}]},"mark":{"type":"rule","color":"black","strokeWidth":1},"encoding":{"x":{"datum":118.1,"type":"quantitative","scale":{"domain":[-1.75,118.1],"nice":false,"zero":false,"padding":0},"axis":null},"x2":{"datum":124.2},"y":{"datum":13.397,"type":"quantitative","scale":{"domain":[9.397,13.397],"nice":false,"zero":false,"padding":0},"axis":null}}},
{"data":{"values":[{"e":"frame"}]},"mark":{"type":"rule","color":"black","strokeWidth":1},"encoding":{"x":{"datum":124.2,"type":"quantitative","scale":{"domain":[-1.75,118.1],"nice":false,"zero":false,"padding":0},"axis":null}}},
{"data":{"values":[{"s":"Close","v":10.66,"t":"10.66"}]},"mark":{"type":"point","shape":"M-1,0L-0.67,-0.34L1,-0.34L1,0.34L-0.67,0.34Z","size":1296,"filled":true,"opacity":1,"fill":"black","stroke":"black","strokeWidth":1},"encoding":{"x":{"datum":120.9,"type":"quantitative","scale":{"domain":[-1.75,118.1],"nice":false,"zero":false,"padding":0},"axis":null},"y":{"field":"v","type":"quantitative","scale":{"domain":[9.397,13.397],"nice":false,"zero":false,"padding":0},"axis":null}}},
{"data":{"values":[{"s":"Close","v":10.66,"t":"10.66"}]},"mark":{"type":"text","color":"white","fontSize":11,"baseline":"middle","align":"center"},"encoding":{"x":{"datum":121.1,"type":"quantitative","scale":{"domain":[-1.75,118.1],"nice":false,"zero":false,"padding":0},"axis":null},"y":{"field":"v","type":"quantitative","scale":{"domain":[9.397,13.397],"nice":false,"zero":false,"padding":0},"axis":null},"text":{"field":"t"}}}
]},
{"width":925,"height":410,"layer":[
{"data":{"name":"bands"},"mark":{"type":"rect"},"encoding":{"x":{"field":"a","type":"quantitative","scale":{"domain":[-1.75,118.1],"nice":false,"zero":false,"padding":0},"axis":null},"x2":{"field":"b"},"fill":{"condition":{"test":"datum.phase=='up'","value":"#d4def5"},"value":"#ffcde6"}}},
{"data":{"values":[{"p":10.4},{"p":11.0},{"p":11.6},{"p":12.2},{"p":12.8}]},"mark":{"type":"rule","color":"white","strokeWidth":1,"opacity":0.8},"encoding":{"x":{"datum":-1.75,"type":"quantitative","scale":{"domain":[-1.75,118.1],"nice":false,"zero":false,"padding":0},"axis":null},"x2":{"datum":118.1},"y":{"field":"p","type":"quantitative","scale":{"domain":[9.747,13.294],"nice":false,"zero":false,"padding":0},"axis":null}}},
{"data":{"name":"months"},"mark":{"type":"rule","color":"white","strokeWidth":1},"encoding":{"x":{"field":"i","type":"quantitative","scale":{"domain":[-1.75,118.1],"nice":false,"zero":false,"padding":0},"axis":null}}},
{"data":{"name":"daily"},"mark":{"type":"rule","color":"black","strokeWidth":1},"encoding":{"x":{"field":"i","type":"quantitative","scale":{"domain":[-1.75,118.1],"nice":false,"zero":false,"padding":0},"axis":null},"y":{"field":"l","type":"quantitative","scale":{"domain":[9.747,13.294],"nice":false,"zero":false,"padding":0},"axis":null},"y2":{"field":"h"}}},
{"data":{"name":"daily"},"mark":{"type":"bar","width":6,"stroke":"black","strokeWidth":1},"encoding":{"x":{"field":"i","type":"quantitative","scale":{"domain":[-1.75,118.1],"nice":false,"zero":false,"padding":0},"axis":null},"y":{"field":"o","type":"quantitative","scale":{"domain":[9.747,13.294],"nice":false,"zero":false,"padding":0},"axis":null},"y2":{"field":"c"},"fill":{"condition":{"test":"datum.c<datum.o","value":"#e60000"},"value":"#0000e6"}}},
{"data":{"name":"ma20"},"mark":{"type":"line","strokeWidth":2},"encoding":{"x":{"field":"i","type":"quantitative","scale":{"domain":[-1.75,118.1],"nice":false,"zero":false,"padding":0},"axis":null},"y":{"field":"v","type":"quantitative","scale":{"domain":[9.747,13.294],"nice":false,"zero":false,"padding":0},"axis":null},"detail":{"field":"s"},"color":{"condition":{"test":"datum.d=='up'","value":"#1e8c1e"},"value":"#e8141e"}}},
{"data":{"name":"ma50"},"mark":{"type":"line","strokeWidth":2,"strokeDash":[6,3]},"encoding":{"x":{"field":"i","type":"quantitative","scale":{"domain":[-1.75,118.1],"nice":false,"zero":false,"padding":0},"axis":null},"y":{"field":"v","type":"quantitative","scale":{"domain":[9.747,13.294],"nice":false,"zero":false,"padding":0},"axis":null},"detail":{"field":"s"},"color":{"condition":{"test":"datum.d=='up'","value":"#1a1a78"},"value":"#e8141e"}}},
{"data":{"name":"ma200"},"mark":{"type":"line","strokeWidth":2,"strokeDash":[6,3]},"encoding":{"x":{"field":"i","type":"quantitative","scale":{"domain":[-1.75,118.1],"nice":false,"zero":false,"padding":0},"axis":null},"y":{"field":"v","type":"quantitative","scale":{"domain":[9.747,13.294],"nice":false,"zero":false,"padding":0},"axis":null},"detail":{"field":"s"},"color":{"condition":{"test":"datum.d=='up'","value":"#801880"},"value":"#000000"}}},
{"data":{"name":"levels"},"mark":{"type":"rect","fill":"#f00000","fillOpacity":0.33,"stroke":"#dd0000","strokeWidth":1},"encoding":{"x":{"datum":-1.75,"type":"quantitative","scale":{"domain":[-1.75,118.1],"nice":false,"zero":false,"padding":0},"axis":null},"x2":{"datum":110.3},"y":{"field":"lo","type":"quantitative","scale":{"domain":[9.747,13.294],"nice":false,"zero":false,"padding":0},"axis":null},"y2":{"field":"hi"}}},
{"data":{"name":"levels"},"mark":{"type":"text","align":"left","baseline":"alphabetic","fontSize":13,"fontWeight":"bold","font":"Liberation Sans","color":"#e8303a"},"encoding":{"x":{"datum":112.5,"type":"quantitative","scale":{"domain":[-1.75,118.1],"nice":false,"zero":false,"padding":0},"axis":null},"y":{"field":"lo","type":"quantitative","scale":{"domain":[9.747,13.294],"nice":false,"zero":false,"padding":0},"axis":null},"text":{"field":"n"}}},
{"data":{"values":[{"n":"F (Daily)"}]},"mark":{"type":"text","align":"left","baseline":"middle","dx":3,"dy":19,"fontSize":11,"color":"black"},"encoding":{"x":{"datum":-1.75,"type":"quantitative","scale":{"domain":[-1.75,118.1],"nice":false,"zero":false,"padding":0},"axis":null},"y":{"datum":13.294,"type":"quantitative","scale":{"domain":[9.747,13.294],"nice":false,"zero":false,"padding":0},"axis":null},"text":{"field":"n"}}},
{"data":{"values":[{"e":"frame"}]},"mark":{"type":"rule","color":"black","strokeWidth":1},"encoding":{"x":{"datum":118.1,"type":"quantitative","scale":{"domain":[-1.75,118.1],"nice":false,"zero":false,"padding":0},"axis":null},"x2":{"datum":124.2},"y":{"datum":13.294,"type":"quantitative","scale":{"domain":[9.747,13.294],"nice":false,"zero":false,"padding":0},"axis":null}}},
{"data":{"values":[{"e":"frame"}]},"mark":{"type":"rule","color":"black","strokeWidth":1},"encoding":{"x":{"datum":124.2,"type":"quantitative","scale":{"domain":[-1.75,118.1],"nice":false,"zero":false,"padding":0},"axis":null}}},
{"data":{"name":"priceTicks"},"mark":{"type":"rule","color":"black","strokeWidth":1},"encoding":{"x":{"datum":118.1,"type":"quantitative","scale":{"domain":[-1.75,118.1],"nice":false,"zero":false,"padding":0},"axis":null},"x2":{"datum":118.62},"y":{"field":"p","type":"quantitative","scale":{"domain":[9.747,13.294],"nice":false,"zero":false,"padding":0},"axis":null}}},
{"data":{"name":"priceTicks"},"transform":[{"filter":"datum.p!=11.8"}],"mark":{"type":"text","align":"left","baseline":"middle","dx":6,"fontSize":11,"color":"black"},"encoding":{"x":{"datum":118.1,"type":"quantitative","scale":{"domain":[-1.75,118.1],"nice":false,"zero":false,"padding":0},"axis":null},"y":{"field":"p","type":"quantitative","scale":{"domain":[9.747,13.294],"nice":false,"zero":false,"padding":0},"axis":null},"text":{"field":"p","format":".2f"}}},
{"data":{"values":[{"s":"SMA50","v":12.12,"t":"12.12"},{"s":"SMA20","v":11.77,"t":"11.77"},{"s":"SMA200","v":11.47,"t":"11.47"},{"s":"Close","v":10.66,"t":"10.66"}]},"mark":{"type":"point","shape":"M-1,0L-0.67,-0.34L1,-0.34L1,0.34L-0.67,0.34Z","size":1296,"filled":true,"opacity":1,"strokeWidth":1},"encoding":{"x":{"datum":120.9,"type":"quantitative","scale":{"domain":[-1.75,118.1],"nice":false,"zero":false,"padding":0},"axis":null},"y":{"field":"v","type":"quantitative","scale":{"domain":[9.747,13.294],"nice":false,"zero":false,"padding":0},"axis":null},"fill":{"condition":{"test":"datum.s=='SMA50'||datum.s=='SMA20'","value":"#e80000"},"value":"#000000"},"stroke":{"condition":{"test":"datum.s=='SMA50'||datum.s=='SMA20'","value":"#7a0000"},"value":"#000000"}}},
{"data":{"values":[{"s":"SMA50","v":12.12,"t":"12.12"},{"s":"SMA20","v":11.77,"t":"11.77"},{"s":"SMA200","v":11.47,"t":"11.47"},{"s":"Close","v":10.66,"t":"10.66"}]},"mark":{"type":"text","color":"white","fontSize":11,"baseline":"middle","align":"center"},"encoding":{"x":{"datum":121.1,"type":"quantitative","scale":{"domain":[-1.75,118.1],"nice":false,"zero":false,"padding":0},"axis":null},"y":{"field":"v","type":"quantitative","scale":{"domain":[9.747,13.294],"nice":false,"zero":false,"padding":0},"axis":null},"text":{"field":"t"}}}
]},
{"width":925,"height":177,"layer":[
{"data":{"name":"bands"},"mark":{"type":"rect"},"encoding":{"x":{"field":"a","type":"quantitative","scale":{"domain":[-1.75,118.1],"nice":false,"zero":false,"padding":0},"axis":null},"x2":{"field":"b"},"fill":{"condition":{"test":"datum.phase=='up'","value":"#d4def5"},"value":"#ffcde6"}}},
{"data":{"values":[{"p":20},{"p":80}]},"mark":{"type":"rule","color":"white","strokeWidth":1,"opacity":0.8},"encoding":{"x":{"datum":-1.75,"type":"quantitative","scale":{"domain":[-1.75,118.1],"nice":false,"zero":false,"padding":0},"axis":null},"x2":{"datum":118.1},"y":{"field":"p","type":"quantitative","scale":{"domain":[-3,102.7],"nice":false,"zero":false,"padding":0},"axis":null}}},
{"data":{"name":"months"},"mark":{"type":"rule","color":"white","strokeWidth":1},"encoding":{"x":{"field":"i","type":"quantitative","scale":{"domain":[-1.75,118.1],"nice":false,"zero":false,"padding":0},"axis":null}}},
{"data":{"values":[{"lv":68.7,"n":"overbought"},{"lv":32.4,"n":"oversold"}]},"mark":{"type":"rule","strokeWidth":1.5,"strokeDash":[5,3]},"encoding":{"x":{"datum":-1.75,"type":"quantitative","scale":{"domain":[-1.75,118.1],"nice":false,"zero":false,"padding":0},"axis":null},"x2":{"datum":118.1},"y":{"field":"lv","type":"quantitative","scale":{"domain":[-3,102.7],"nice":false,"zero":false,"padding":0},"axis":null},"color":{"condition":{"test":"datum.n=='overbought'","value":"#007000"},"value":"#dd0000"}}},
{"data":{"name":"dD"},"mark":{"type":"line","strokeWidth":4},"encoding":{"x":{"field":"i","type":"quantitative","scale":{"domain":[-1.75,118.1],"nice":false,"zero":false,"padding":0},"axis":null},"y":{"field":"v","type":"quantitative","scale":{"domain":[-3,102.7],"nice":false,"zero":false,"padding":0},"axis":null},"detail":{"field":"s"},"color":{"condition":{"test":"datum.d=='up'","value":"#0000ee"},"value":"#ff0000"}}},
{"data":{"name":"dK"},"mark":{"type":"line","strokeWidth":3,"strokeDash":[7,3],"color":"#3399ff"},"encoding":{"x":{"field":"i","type":"quantitative","scale":{"domain":[-1.75,118.1],"nice":false,"zero":false,"padding":0},"axis":null},"y":{"field":"v","type":"quantitative","scale":{"domain":[-3,102.7],"nice":false,"zero":false,"padding":0},"axis":null}}},
{"data":{"values":[{"n":"Daily"}]},"mark":{"type":"text","align":"left","baseline":"middle","dx":3,"dy":17,"fontSize":11,"color":"black"},"encoding":{"x":{"datum":-1.75,"type":"quantitative","scale":{"domain":[-1.75,118.1],"nice":false,"zero":false,"padding":0},"axis":null},"y":{"datum":102.7,"type":"quantitative","scale":{"domain":[-3,102.7],"nice":false,"zero":false,"padding":0},"axis":null},"text":{"field":"n"}}},
{"data":{"values":[{"e":"frame"}]},"mark":{"type":"rule","color":"black","strokeWidth":1},"encoding":{"x":{"datum":118.1,"type":"quantitative","scale":{"domain":[-1.75,118.1],"nice":false,"zero":false,"padding":0},"axis":null},"x2":{"datum":124.2},"y":{"datum":102.7,"type":"quantitative","scale":{"domain":[-3,102.7],"nice":false,"zero":false,"padding":0},"axis":null}}},
{"data":{"values":[{"e":"frame"}]},"mark":{"type":"rule","color":"black","strokeWidth":1},"encoding":{"x":{"datum":124.2,"type":"quantitative","scale":{"domain":[-1.75,118.1],"nice":false,"zero":false,"padding":0},"axis":null}}},
{"data":{"name":"stochTicks"},"mark":{"type":"rule","color":"black","strokeWidth":1},"encoding":{"x":{"datum":118.1,"type":"quantitative","scale":{"domain":[-1.75,118.1],"nice":false,"zero":false,"padding":0},"axis":null},"x2":{"datum":118.62},"y":{"field":"p","type":"quantitative","scale":{"domain":[-3,102.7],"nice":false,"zero":false,"padding":0},"axis":null}}},
{"data":{"name":"stochTicks"},"mark":{"type":"text","align":"left","baseline":"middle","dx":6,"fontSize":11,"color":"black"},"encoding":{"x":{"datum":118.1,"type":"quantitative","scale":{"domain":[-1.75,118.1],"nice":false,"zero":false,"padding":0},"axis":null},"y":{"field":"p","type":"quantitative","scale":{"domain":[-3,102.7],"nice":false,"zero":false,"padding":0},"axis":null},"text":{"field":"p"}}},
{"data":{"values":[{"s":"K","v":6.0},{"s":"D","v":8.67}]},"mark":{"type":"point","shape":"M-1,0L-0.67,-0.34L1,-0.34L1,0.34L-0.67,0.34Z","size":1296,"filled":true,"opacity":1,"strokeWidth":1},"encoding":{"x":{"datum":120.9,"type":"quantitative","scale":{"domain":[-1.75,118.1],"nice":false,"zero":false,"padding":0},"axis":null},"y":{"field":"v","type":"quantitative","scale":{"domain":[-3,102.7],"nice":false,"zero":false,"padding":0},"axis":null},"fill":{"condition":{"test":"datum.s=='D'","value":"#e80000"},"value":"#3399ff"},"stroke":{"condition":{"test":"datum.s=='D'","value":"#7a0000"},"value":"#1a5aa0"}}},
{"data":{"values":[{"s":"D","v":8.67,"t":"8.67"}]},"mark":{"type":"text","color":"white","fontSize":11,"baseline":"middle","align":"center"},"encoding":{"x":{"datum":121.1,"type":"quantitative","scale":{"domain":[-1.75,118.1],"nice":false,"zero":false,"padding":0},"axis":null},"y":{"field":"v","type":"quantitative","scale":{"domain":[-3,102.7],"nice":false,"zero":false,"padding":0},"axis":null},"text":{"field":"t"}}}
]},
{"width":925,"height":158,"layer":[
{"data":{"name":"bands"},"mark":{"type":"rect"},"encoding":{"x":{"field":"a","type":"quantitative","scale":{"domain":[-1.75,118.1],"nice":false,"zero":false,"padding":0},"axis":null},"x2":{"field":"b"},"fill":{"condition":{"test":"datum.phase=='up'","value":"#d4def5"},"value":"#ffcde6"}}},
{"data":{"values":[{"p":20},{"p":80}]},"mark":{"type":"rule","color":"white","strokeWidth":1,"opacity":0.8},"encoding":{"x":{"datum":-1.75,"type":"quantitative","scale":{"domain":[-1.75,118.1],"nice":false,"zero":false,"padding":0},"axis":null},"x2":{"datum":118.1},"y":{"field":"p","type":"quantitative","scale":{"domain":[1.1,103],"nice":false,"zero":false,"padding":0},"axis":null}}},
{"data":{"name":"months"},"mark":{"type":"rule","color":"white","strokeWidth":1},"encoding":{"x":{"field":"i","type":"quantitative","scale":{"domain":[-1.75,118.1],"nice":false,"zero":false,"padding":0},"axis":null}}},
{"data":{"values":[{"lv":69,"n":"overbought"},{"lv":32,"n":"oversold"}]},"mark":{"type":"rule","strokeWidth":1.5,"strokeDash":[5,3]},"encoding":{"x":{"datum":-1.75,"type":"quantitative","scale":{"domain":[-1.75,118.1],"nice":false,"zero":false,"padding":0},"axis":null},"x2":{"datum":118.1},"y":{"field":"lv","type":"quantitative","scale":{"domain":[1.1,103],"nice":false,"zero":false,"padding":0},"axis":null},"color":{"condition":{"test":"datum.n=='overbought'","value":"#007000"},"value":"#dd0000"}}},
{"data":{"name":"wD"},"mark":{"type":"line","strokeWidth":4},"encoding":{"x":{"field":"i","type":"quantitative","scale":{"domain":[-1.75,118.1],"nice":false,"zero":false,"padding":0},"axis":null},"y":{"field":"v","type":"quantitative","scale":{"domain":[1.1,103],"nice":false,"zero":false,"padding":0},"axis":null},"detail":{"field":"s"},"color":{"condition":{"test":"datum.d=='up'","value":"#0000ee"},"value":"#ff0000"}}},
{"data":{"name":"wK"},"mark":{"type":"line","strokeWidth":3,"strokeDash":[7,3],"color":"#3399ff"},"encoding":{"x":{"field":"i","type":"quantitative","scale":{"domain":[-1.75,118.1],"nice":false,"zero":false,"padding":0},"axis":null},"y":{"field":"v","type":"quantitative","scale":{"domain":[1.1,103],"nice":false,"zero":false,"padding":0},"axis":null}}},
{"data":{"values":[{"n":"Weekly"}]},"mark":{"type":"text","align":"left","baseline":"middle","dx":3,"dy":18,"fontSize":11,"color":"black"},"encoding":{"x":{"datum":-1.75,"type":"quantitative","scale":{"domain":[-1.75,118.1],"nice":false,"zero":false,"padding":0},"axis":null},"y":{"datum":103,"type":"quantitative","scale":{"domain":[1.1,103],"nice":false,"zero":false,"padding":0},"axis":null},"text":{"field":"n"}}},
{"data":{"values":[{"e":"frame"}]},"mark":{"type":"rule","color":"black","strokeWidth":1},"encoding":{"x":{"datum":118.1,"type":"quantitative","scale":{"domain":[-1.75,118.1],"nice":false,"zero":false,"padding":0},"axis":null},"x2":{"datum":124.2},"y":{"datum":103,"type":"quantitative","scale":{"domain":[1.1,103],"nice":false,"zero":false,"padding":0},"axis":null}}},
{"data":{"values":[{"e":"frame"}]},"mark":{"type":"rule","color":"black","strokeWidth":1},"encoding":{"x":{"datum":124.2,"type":"quantitative","scale":{"domain":[-1.75,118.1],"nice":false,"zero":false,"padding":0},"axis":null}}},
{"data":{"name":"stochTicks"},"mark":{"type":"rule","color":"black","strokeWidth":1},"encoding":{"x":{"datum":118.1,"type":"quantitative","scale":{"domain":[-1.75,118.1],"nice":false,"zero":false,"padding":0},"axis":null},"x2":{"datum":118.62},"y":{"field":"p","type":"quantitative","scale":{"domain":[1.1,103],"nice":false,"zero":false,"padding":0},"axis":null}}},
{"data":{"name":"stochTicks"},"mark":{"type":"text","align":"left","baseline":"middle","dx":6,"fontSize":11,"color":"black"},"encoding":{"x":{"datum":118.1,"type":"quantitative","scale":{"domain":[-1.75,118.1],"nice":false,"zero":false,"padding":0},"axis":null},"y":{"field":"p","type":"quantitative","scale":{"domain":[1.1,103],"nice":false,"zero":false,"padding":0},"axis":null},"text":{"field":"p"}}},
{"data":{"values":[{"s":"K","v":7.9,"t":"8.78"},{"s":"D","v":15.21,"t":"15.21"}]},"mark":{"type":"point","shape":"M-1,0L-0.67,-0.34L1,-0.34L1,0.34L-0.67,0.34Z","size":1296,"filled":true,"opacity":1,"strokeWidth":1},"encoding":{"x":{"datum":120.9,"type":"quantitative","scale":{"domain":[-1.75,118.1],"nice":false,"zero":false,"padding":0},"axis":null},"y":{"field":"v","type":"quantitative","scale":{"domain":[1.1,103],"nice":false,"zero":false,"padding":0},"axis":null},"fill":{"condition":{"test":"datum.s=='D'","value":"#e80000"},"value":"#3399ff"},"stroke":{"condition":{"test":"datum.s=='D'","value":"#7a0000"},"value":"#1a5aa0"}}},
{"data":{"values":[{"s":"K","v":7.9,"t":"8.78"},{"s":"D","v":15.21,"t":"15.21"}]},"mark":{"type":"text","color":"white","fontSize":10,"baseline":"middle","align":"center"},"encoding":{"x":{"datum":121.1,"type":"quantitative","scale":{"domain":[-1.75,118.1],"nice":false,"zero":false,"padding":0},"axis":null},"y":{"field":"v","type":"quantitative","scale":{"domain":[1.1,103],"nice":false,"zero":false,"padding":0},"axis":null},"text":{"field":"t"}}}
]},
{"width":925,"height":69,"layer":[
{"data":{"name":"bands"},"mark":{"type":"rect"},"encoding":{"x":{"field":"a","type":"quantitative","scale":{"domain":[-1.75,118.1],"nice":false,"zero":false,"padding":0},"axis":null},"x2":{"field":"b"},"fill":{"condition":{"test":"datum.phase=='up'","value":"#d4def5"},"value":"#ffcde6"}}},
{"data":{"name":"months"},"mark":{"type":"rule","color":"white","strokeWidth":1},"encoding":{"x":{"field":"i","type":"quantitative","scale":{"domain":[-1.75,118.1],"nice":false,"zero":false,"padding":0},"axis":null}}},
{"data":{"values":[{"z":0}]},"mark":{"type":"rule","color":"#9a9a9a","strokeWidth":1},"encoding":{"x":{"datum":-1.75,"type":"quantitative","scale":{"domain":[-1.75,118.1],"nice":false,"zero":false,"padding":0},"axis":null},"x2":{"datum":118.1},"y":{"field":"z","type":"quantitative","scale":{"domain":[-6.7,146.7],"nice":false,"zero":false,"padding":0},"axis":null}}},
{"data":{"name":"daily"},"mark":{"type":"bar","width":5},"encoding":{"x":{"field":"i","type":"quantitative","scale":{"domain":[-1.75,118.1],"nice":false,"zero":false,"padding":0},"axis":null},"y":{"field":"v","type":"quantitative","scale":{"domain":[-6.7,146.7],"nice":false,"zero":false,"padding":0},"axis":null},"y2":{"datum":0},"fill":{"condition":{"test":"datum.vu==1","value":"#00e000"},"value":"#e80000"}}},
{"data":{"name":"vsma"},"mark":{"type":"line","strokeWidth":1,"color":"#3232c8"},"encoding":{"x":{"field":"i","type":"quantitative","scale":{"domain":[-1.75,118.1],"nice":false,"zero":false,"padding":0},"axis":null},"y":{"field":"v","type":"quantitative","scale":{"domain":[-6.7,146.7],"nice":false,"zero":false,"padding":0},"axis":null}}},
{"data":{"values":[{"n":"Volume & 10 SMA"}]},"mark":{"type":"text","align":"left","baseline":"middle","dx":3,"dy":19,"fontSize":11,"color":"black"},"encoding":{"x":{"datum":-1.75,"type":"quantitative","scale":{"domain":[-1.75,118.1],"nice":false,"zero":false,"padding":0},"axis":null},"y":{"datum":146.7,"type":"quantitative","scale":{"domain":[-6.7,146.7],"nice":false,"zero":false,"padding":0},"axis":null},"text":{"field":"n"}}},
{"data":{"values":[{"n":"© 2012 NinjaTrader, LLC"}]},"mark":{"type":"text","align":"left","baseline":"middle","dx":3,"fontSize":11,"color":"#333333"},"encoding":{"x":{"datum":-1.75,"type":"quantitative","scale":{"domain":[-1.75,118.1],"nice":false,"zero":false,"padding":0},"axis":null},"y":{"datum":6.7,"type":"quantitative","scale":{"domain":[-6.7,146.7],"nice":false,"zero":false,"padding":0},"axis":null},"text":{"field":"n"}}},
{"data":{"values":[{"e":"frame"}]},"mark":{"type":"rule","color":"black","strokeWidth":1},"encoding":{"x":{"datum":118.1,"type":"quantitative","scale":{"domain":[-1.75,118.1],"nice":false,"zero":false,"padding":0},"axis":null},"x2":{"datum":124.2},"y":{"datum":146.7,"type":"quantitative","scale":{"domain":[-6.7,146.7],"nice":false,"zero":false,"padding":0},"axis":null}}},
{"data":{"values":[{"e":"frame"}]},"mark":{"type":"rule","color":"black","strokeWidth":1},"encoding":{"x":{"datum":124.2,"type":"quantitative","scale":{"domain":[-1.75,118.1],"nice":false,"zero":false,"padding":0},"axis":null},"y":{"datum":146.7,"type":"quantitative","scale":{"domain":[-6.7,146.7],"nice":false,"zero":false,"padding":0},"axis":null},"y2":{"datum":-106.4}}},
{"data":{"values":[{"e":"frame"}]},"mark":{"type":"rule","color":"black","strokeWidth":1},"encoding":{"x":{"datum":-1.75,"type":"quantitative","scale":{"domain":[-1.75,118.1],"nice":false,"zero":false,"padding":0},"axis":null},"y":{"datum":-6.7,"type":"quantitative","scale":{"domain":[-6.7,146.7],"nice":false,"zero":false,"padding":0},"axis":null},"y2":{"datum":-106.4}}},
{"data":{"values":[{"e":"frame"}]},"mark":{"type":"rule","color":"black","strokeWidth":1},"encoding":{"x":{"datum":-1.75,"type":"quantitative","scale":{"domain":[-1.75,118.1],"nice":false,"zero":false,"padding":0},"axis":null},"x2":{"datum":124.2},"y":{"datum":-106.4,"type":"quantitative","scale":{"domain":[-6.7,146.7],"nice":false,"zero":false,"padding":0},"axis":null}}},
{"data":{"name":"volTicks"},"mark":{"type":"rule","color":"black","strokeWidth":1},"encoding":{"x":{"datum":118.1,"type":"quantitative","scale":{"domain":[-1.75,118.1],"nice":false,"zero":false,"padding":0},"axis":null},"x2":{"datum":118.62},"y":{"field":"p","type":"quantitative","scale":{"domain":[-6.7,146.7],"nice":false,"zero":false,"padding":0},"axis":null}}},
{"data":{"name":"volTicks"},"mark":{"type":"text","align":"left","baseline":"middle","dx":6,"fontSize":11,"color":"black"},"encoding":{"x":{"datum":118.1,"type":"quantitative","scale":{"domain":[-1.75,118.1],"nice":false,"zero":false,"padding":0},"axis":null},"y":{"field":"p","type":"quantitative","scale":{"domain":[-6.7,146.7],"nice":false,"zero":false,"padding":0},"axis":null},"text":{"field":"t"}}},
{"data":{"name":"months"},"mark":{"type":"rule","color":"black","strokeWidth":1},"encoding":{"x":{"field":"i","type":"quantitative","scale":{"domain":[-1.75,118.1],"nice":false,"zero":false,"padding":0},"axis":null},"y":{"datum":-6.7,"type":"quantitative","scale":{"domain":[-6.7,146.7],"nice":false,"zero":false,"padding":0},"axis":null},"y2":{"datum":-17.8}}},
{"data":{"name":"months"},"mark":{"type":"text","align":"center","baseline":"middle","fontSize":12,"color":"black"},"encoding":{"x":{"field":"i","type":"quantitative","scale":{"domain":[-1.75,118.1],"nice":false,"zero":false,"padding":0},"axis":null},"y":{"datum":-35.6,"type":"quantitative","scale":{"domain":[-6.7,146.7],"nice":false,"zero":false,"padding":0},"axis":null},"text":{"field":"m"}}},
{"data":{"values":[{"s":"Volume","v":47,"t":"47M"}]},"mark":{"type":"point","shape":"M-1,0L-0.67,-0.34L1,-0.34L1,0.34L-0.67,0.34Z","size":1296,"filled":true,"opacity":1,"fill":"#e80000","stroke":"#7a0000","strokeWidth":1},"encoding":{"x":{"datum":120.9,"type":"quantitative","scale":{"domain":[-1.75,118.1],"nice":false,"zero":false,"padding":0},"axis":null},"y":{"field":"v","type":"quantitative","scale":{"domain":[-6.7,146.7],"nice":false,"zero":false,"padding":0},"axis":null}}},
{"data":{"values":[{"s":"Volume","v":47,"t":"47M"}]},"mark":{"type":"text","color":"white","fontSize":11,"baseline":"middle","align":"center"},"encoding":{"x":{"datum":121.1,"type":"quantitative","scale":{"domain":[-1.75,118.1],"nice":false,"zero":false,"padding":0},"axis":null},"y":{"field":"v","type":"quantitative","scale":{"domain":[-6.7,146.7],"nice":false,"zero":false,"padding":0},"axis":null},"text":{"field":"t"}}}
]}
]
}
